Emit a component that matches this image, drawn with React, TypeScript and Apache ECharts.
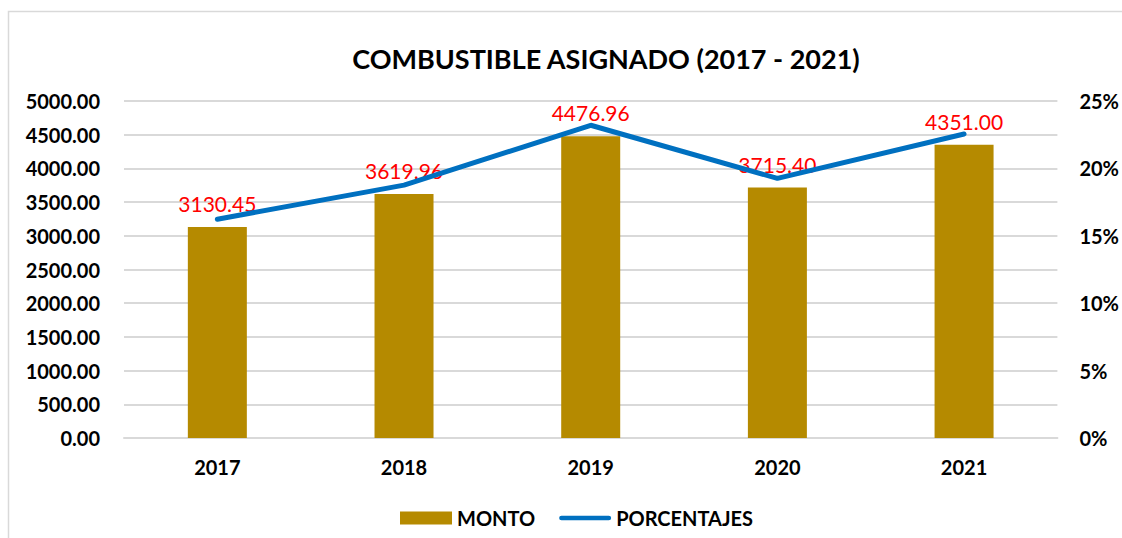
import React, { useEffect, useRef } from "react";
import * as echarts from "echarts";

const years = ["2017", "2018", "2019", "2020", "2021"];
const monto = [3130.45, 3619.96, 4476.96, 3715.4, 4351.0];
const porcentajes = [16.23, 18.76, 23.2, 19.26, 22.55];
const titleText = "COMBUSTIBLE ASIGNADO (2017 - 2021)";

const FONT = "Lato, 'Open Sans', sans-serif";
const LINE_ICON =
  "path://M0,0 L0,0 M2.5,4 L52.5,4 A2.5,2.5 0 0 1 52.5,9 L2.5,9 A2.5,2.5 0 0 1 2.5,4 Z M55,13 L55,13";

export default function App() {
  const ref = useRef<HTMLDivElement>(null);
  useEffect(() => {
    if (!ref.current) return;
    const chart = echarts.init(ref.current, undefined, { renderer: "svg" });
    chart.setOption({
      animation: false,
      backgroundColor: "#ffffff",
      textStyle: { fontFamily: FONT },
      graphic: [
        {
          type: "rect",
          shape: { x: 8.5, y: 11.5, width: 1200, height: 700 },
          style: { fill: "none", stroke: "#D9D9D9", lineWidth: 1.5 },
          silent: true,
          z: -10,
        },
      ],
      title: {
        text: titleText,
        left: 601,
        textAlign: "center",
        top: 40,
        textStyle: { fontFamily: FONT, fontWeight: "bold", fontSize: 27, color: "#000" },
      },
      legend: {
        bottom: 5,
        left: 395,
        itemWidth: 52,
        itemHeight: 13,
        itemGap: 24,
        textStyle: { fontFamily: FONT, fontWeight: "bold", fontSize: 20, color: "#000" },
        data: [
          { name: "MONTO", icon: "rect" },
          { name: "PORCENTAJES", icon: LINE_ICON, itemWidth: 55 },
        ],
      },
      grid: { left: 124, right: 64, top: 101, bottom: 100 },
      xAxis: {
        type: "category",
        data: years,
        axisLine: { show: true, lineStyle: { color: "#D9D9D9", width: 2 } },
        axisTick: { show: false },
        axisLabel: { color: "#000", fontWeight: "bold", fontSize: 20, margin: 19, fontFamily: FONT },
      },
      yAxis: [
        {
          type: "value",
          min: 0,
          max: 5000,
          interval: 500,
          axisLine: { show: false },
          axisTick: { show: false },
          splitLine: { lineStyle: { color: "#D9D9D9", width: 2 } },
          axisLabel: {
            color: "#000",
            fontWeight: "bold",
            fontSize: 20,
            margin: 24,
            fontFamily: FONT,
            formatter: (v: number) => v.toFixed(2),
          },
        },
        {
          type: "value",
          min: 0,
          max: 25,
          interval: 5,
          axisLine: { show: false },
          axisTick: { show: false },
          splitLine: { show: false },
          axisLabel: {
            color: "#000",
            fontWeight: "bold",
            fontSize: 20,
            margin: 22,
            fontFamily: FONT,
            formatter: (v: number) => v + "%",
          },
        },
      ],
      series: [
        {
          name: "MONTO",
          type: "bar",
          data: monto,
          barWidth: 59,
          itemStyle: { color: "#B58A00" },
          label: {
            show: true,
            position: "top",
            distance: 13,
            color: "#FF0000",
            fontSize: 21,
            fontFamily: FONT,
            formatter: (p: any) => Number(p.value).toFixed(2),
          },
          z: 2,
        },
        {
          name: "PORCENTAJES",
          type: "line",
          yAxisIndex: 1,
          data: porcentajes,
          symbol: "none",
          lineStyle: { color: "#0070C0", width: 5, cap: "round" },
          itemStyle: { color: "#0070C0" },
          z: 3,
        },
      ],
    });
    return () => chart.dispose();
  }, []);
  return (
    <div
      ref={ref}
      style={{ position: "fixed", left: 0, top: 0, width: 1122, height: 538 }}
    />
  );
}
